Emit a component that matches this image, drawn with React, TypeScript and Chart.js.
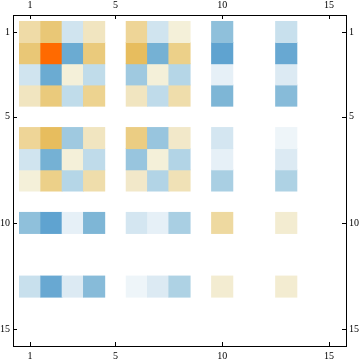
import React, { useEffect, useRef } from 'react';
import { Chart, registerables } from 'chart.js';

Chart.register(...registerables);

// Matrix values (row-major, rows 1..15, columns 1..15)
const row1 = [0.30, 0.54, -0.25, 0.18, 0, 0.37, -0.25, 0.03, 0, -0.65, 0, 0, -0.30, 0, 0];
const row2 = [0.54, 1.00, -0.90, 0.51, 0, 0.60, -0.82, 0.44, 0, -1.00, 0, 0, -0.93, 0, 0];
const row3 = [-0.25, -0.90, 0.03, -0.35, 0, -0.56, 0.03, -0.42, 0, -0.10, 0, 0, -0.17, 0, 0];
const row4 = [0.18, 0.51, -0.35, 0.40, 0, 0.18, -0.36, 0.28, 0, -0.75, 0, 0, -0.70, 0, 0];
const row5 = [0, 0, 0, 0, 0, 0, 0, 0, 0, 0, 0, 0, 0, 0, 0];
const row6 = [0.37, 0.60, -0.56, 0.18, 0, 0.47, -0.60, 0.13, 0, -0.22, 0, 0, -0.02, 0, 0];
const row7 = [-0.25, -0.82, 0.03, -0.36, 0, -0.60, 0.03, -0.44, 0, -0.10, 0, 0, -0.17, 0, 0];
const row8 = [0.03, 0.44, -0.42, 0.28, 0, 0.13, -0.44, 0.23, 0, -0.50, 0, 0, -0.47, 0, 0];
const row9 = [0, 0, 0, 0, 0, 0, 0, 0, 0, 0, 0, 0, 0, 0, 0];
const row10 = [-0.65, -1.00, -0.10, -0.75, 0, -0.22, -0.10, -0.50, 0, 0.33, 0, 0, 0.08, 0, 0];
const row11 = [0, 0, 0, 0, 0, 0, 0, 0, 0, 0, 0, 0, 0, 0, 0];
const row12 = [0, 0, 0, 0, 0, 0, 0, 0, 0, 0, 0, 0, 0, 0, 0];
const row13 = [-0.30, -0.93, -0.17, -0.70, 0, -0.02, -0.17, -0.47, 0, 0.08, 0, 0, 0.08, 0, 0];
const row14 = [0, 0, 0, 0, 0, 0, 0, 0, 0, 0, 0, 0, 0, 0, 0];
const row15 = [0, 0, 0, 0, 0, 0, 0, 0, 0, 0, 0, 0, 0, 0, 0];

const matrixRows = [row1, row2, row3, row4, row5, row6, row7, row8, row9, row10, row11, row12, row13, row14, row15];
const tickValues = [1, 5, 10, 15];

// colour scale stops
const posStops: [number, number[]][] = [
  [0, [244, 242, 222]],
  [0.2, [241, 227, 189]],
  [0.4, [237, 211, 144]],
  [0.54, [233, 199, 118]],
  [0.6, [231, 189, 94]],
  [1, [255, 106, 0]],
];
const negStops: [number, number[]][] = [
  [0, [240, 246, 250]],
  [0.1, [230, 240, 247]],
  [0.25, [208, 228, 239]],
  [0.5, [169, 207, 227]],
  [0.75, [126, 182, 214]],
  [1, [95, 163, 208]],
];

function interp(stops: [number, number[]][], t: number): string {
  for (let i = 1; i < stops.length; i++) {
    const [t1, c1] = stops[i];
    const [t0, c0] = stops[i - 1];
    if (t <= t1) {
      const f = (t - t0) / (t1 - t0);
      const c = c0.map((v, k) => Math.round(v + (c1[k] - v) * f));
      return `rgb(${c[0]},${c[1]},${c[2]})`;
    }
  }
  const c = stops[stops.length - 1][1];
  return `rgb(${c[0]},${c[1]},${c[2]})`;
}

function colorFor(v: number): string {
  if (v >= 0) return interp(posStops, Math.min(1, v));
  return interp(negStops, Math.min(1, -v));
}

const tickPlugin = {
  id: 'inwardTicks',
  afterDraw(chart: any) {
    const ctx = chart.ctx;
    const area = chart.chartArea;
    const len = 4;
    ctx.save();
    ctx.strokeStyle = '#000';
    ctx.lineWidth = 1;
    ctx.beginPath();
    const xs = chart.scales.x;
    const ys = chart.scales.y;
    for (const v of tickValues) {
      const px = Math.round(xs.getPixelForValue(v)) + 0.5;
      ctx.moveTo(px, area.bottom);
      ctx.lineTo(px, area.bottom - len);
      ctx.moveTo(px, area.top);
      ctx.lineTo(px, area.top + len);
      const py = Math.round(ys.getPixelForValue(v)) + 0.5;
      ctx.moveTo(area.left, py);
      ctx.lineTo(area.left + len, py);
      ctx.moveTo(area.right, py);
      ctx.lineTo(area.right - len, py);
    }
    ctx.stroke();
    ctx.restore();
  },
};

export default function App() {
  const canvasRef = useRef<HTMLCanvasElement | null>(null);

  useEffect(() => {
    const canvas = canvasRef.current;
    if (!canvas) return;

    const datasets = matrixRows
      .map((row, ri) => {
        const r = ri + 1;
        const data: any[] = [];
        const colors: string[] = [];
        row.forEach((v, ci) => {
          if (v !== 0) {
            data.push({ x: ci + 1, y: [r - 0.5, r + 0.5] });
            colors.push(colorFor(v));
          }
        });
        return {
          label: `row ${r}`,
          data,
          backgroundColor: colors,
          borderWidth: 0,
          inflateAmount: 0.4,
          barPercentage: 1,
          categoryPercentage: 1,
          grouped: false,
          xAxisID: 'x',
          yAxisID: 'y',
        };
      })
      .filter((d) => d.data.length > 0);

    const font = { family: '"Liberation Serif", "Times New Roman", serif', size: 10 };
    const setTicks = (scale: any) => {
      scale.ticks = tickValues.map((v) => ({ value: v }));
    };
    const common = {
      type: 'linear' as const,
      min: 0.2,
      max: 15.8,
      offset: false,
      grid: { display: false, drawTicks: false },
      border: { display: true, color: '#000', width: 1 },
      afterBuildTicks: setTicks,
    };

    const chart = new Chart(canvas, {
      type: 'bar',
      data: { datasets: datasets as any },
      options: {
        animation: false,
        responsive: false,
        maintainAspectRatio: false,
        layout: { padding: 0 },
        plugins: { legend: { display: false }, tooltip: { enabled: false } },
        scales: {
          x: {
            ...common,
            position: 'bottom',
            ticks: { font, color: '#000', padding: 4.5, maxRotation: 0, autoSkip: false, callback: (v: any) => String(v) },
            afterFit: (s: any) => { s.height = 17; },
          },
          x2: {
            ...common,
            position: 'top',
            ticks: { font, color: '#000', padding: 3.5, maxRotation: 0, autoSkip: false, callback: (v: any) => String(v) },
            afterFit: (s: any) => { s.height = 15; },
          },
          y: {
            ...common,
            reverse: true,
            position: 'left',
            ticks: { font, color: '#000', padding: 3, autoSkip: false, callback: (v: any) => String(v) },
            afterFit: (s: any) => { s.width = 13; },
          },
          y2: {
            ...common,
            reverse: true,
            position: 'right',
            ticks: { font, color: '#000', padding: 3, autoSkip: false, callback: (v: any) => String(v) },
            afterFit: (s: any) => { s.width = 14; },
          },
        } as any,
      },
      plugins: [tickPlugin],
    });

    return () => chart.destroy();
  }, []);

  return (
    <div style={{ position: 'absolute', left: 0, top: 0, width: 360, height: 363, background: '#fff' }}>
      <canvas ref={canvasRef} width={360} height={363} style={{ display: 'block' }} />
    </div>
  );
}
